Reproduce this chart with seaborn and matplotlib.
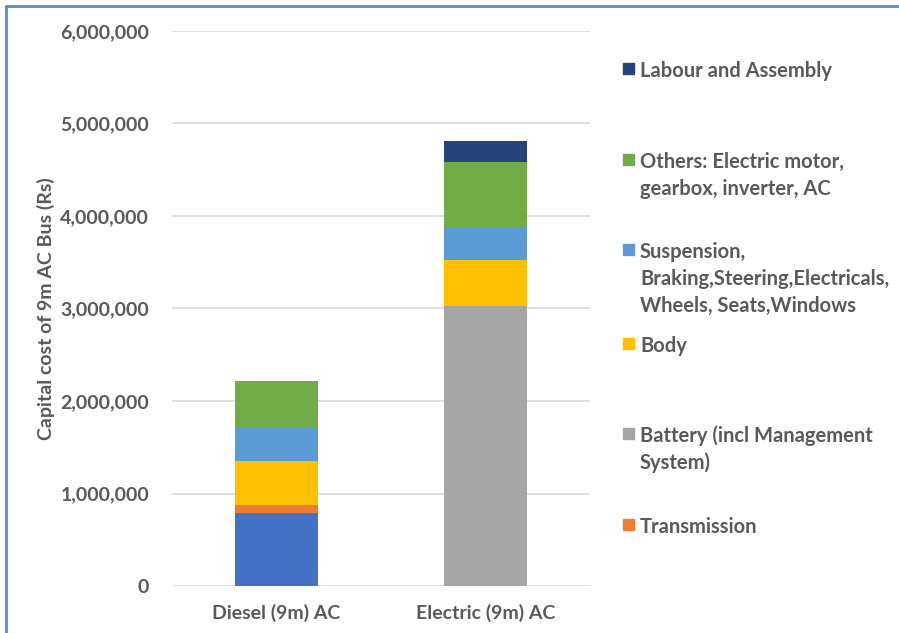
import numpy as np
import matplotlib
matplotlib.use('Agg')
import matplotlib.pyplot as plt
import seaborn as sns
from matplotlib.patches import Rectangle
from matplotlib.lines import Line2D

# data (Rs)
buses = ['Diesel (9m) AC', 'Electric (9m) AC']
engine = [784000, 0]
transmission = [90000, 0]
battery = [0, 3032000]
body = [479000, 490000]
suspension = [359000, 360000]
others = [500000, 705000]
labour = [0, 219000]

series_names = ['Engine', 'Transmission', 'Battery (incl Management\nSystem)', 'Body',
                'Suspension,\nBraking,Steering,Electricals,\nWheels, Seats,Windows',
                'Others: Electric motor,\ngearbox, inverter, AC', 'Labour and Assembly']
series_vals = [engine, transmission, battery, body, suspension, others, labour]
series_cols = ['#4472C4', '#ED7D31', '#A5A5A5', '#FFC000', '#5B9BD5', '#70AD47', '#264478']

sns.set_theme(style='white')
plt.rcParams['font.family'] = ['Lato', 'DejaVu Sans']
plt.rcParams['font.weight'] = 'bold'
txt = '#595959'

fig = plt.figure(figsize=(8.99, 6.33), dpi=100)
ax = fig.add_axes([0.1913, 0.0742, 0.465, 0.877])

# stacked bars: draw cumulative totals, tallest first
cum = np.cumsum(np.array(series_vals), axis=0)
for i in range(len(series_vals) - 1, -1, -1):
    sns.barplot(x=buses, y=cum[i], color=series_cols[i], width=0.4,
                saturation=1, linewidth=0, ax=ax, zorder=3)

ax.set_ylim(0, 6000000)
ax.set_xlim(-0.5, 1.5)
ax.set_yticks(np.arange(0, 6000001, 1000000))
ax.set_yticklabels([f'{v:,}' for v in range(0, 6000001, 1000000)])
ax.yaxis.grid(True, color='#D9D9D9', linewidth=1.2, zorder=0)
ax.set_axisbelow(True)
for s in ax.spines.values():
    s.set_visible(False)
ax.tick_params(axis='both', length=0, labelsize=14, labelcolor=txt)
ax.tick_params(axis='y', pad=16.5)
ax.tick_params(axis='x', pad=13)
for lbl in ax.get_xticklabels() + ax.get_yticklabels():
    lbl.set_fontweight('bold')
ax.set_xlabel('')
ax.set_ylabel('Capital cost of 9m AC Bus (Rs)', fontsize=14, color=txt,
              fontweight='bold')
ax.yaxis.set_label_coords(-0.280, 0.499)

# legend entries in Excel-style layout (Engine entry not shown)
legend_idx = [6, 5, 4, 3, 2, 1]
legend_base = [77, 168, 258, 352, 442, 533]
W, H = 899, 633
line_step = 27
for idx, yb in zip(legend_idx, legend_base):
    yc = yb - 8.5
    fig.patches.append(Rectangle((623 / W, 1 - (yc + 5.5) / H), 11 / W, 11 / H,
                                 transform=fig.transFigure, color=series_cols[idx]))
    for k, line in enumerate(series_names[idx].split('\n')):
        fig.text(640 / W, 1 - (yb + k * line_step) / H, line, fontsize=14.5,
                 color=txt, fontweight='bold', va='baseline', ha='left')

# chart frame (partly cut in the reference)
fig.lines.append(Line2D([6 / W, 6 / W], [0, 1 - 6 / H], transform=fig.transFigure,
                        color='#5B8BD0', linewidth=2))
fig.lines.append(Line2D([6 / W, 1], [1 - 6 / H, 1 - 6 / H], transform=fig.transFigure,
                        color='#5B8BD0', linewidth=2))

fig.savefig('out.png', dpi=100)
